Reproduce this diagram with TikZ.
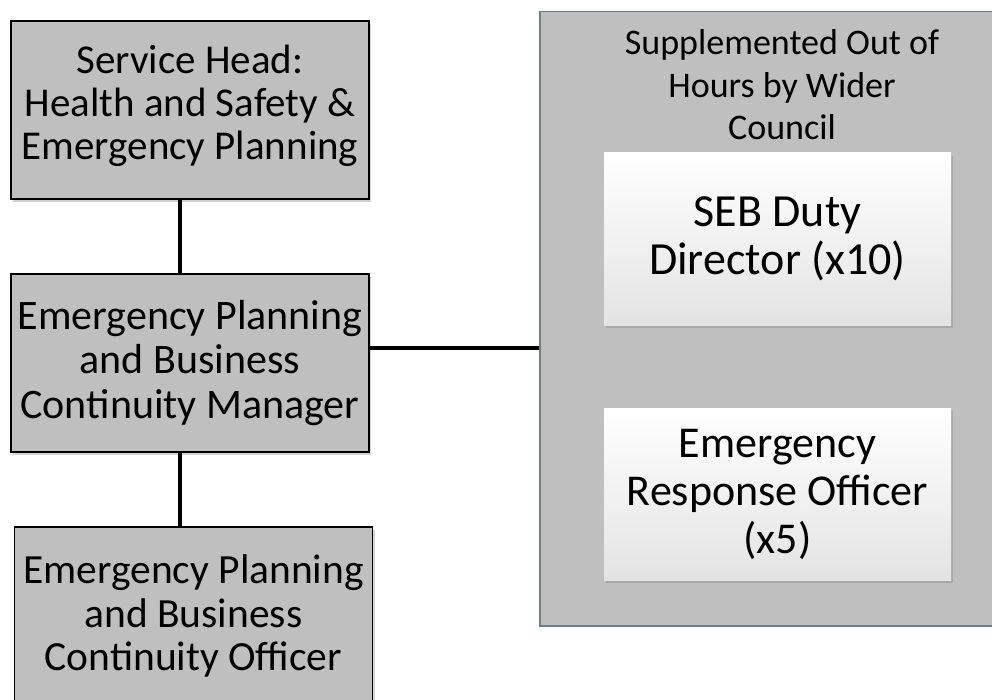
\documentclass[tikz,border=0pt]{standalone}
\usepackage{fontspec}
\setmainfont{Carlito}
\usetikzlibrary{shadows}

\definecolor{boxgrey}{HTML}{BFBFBF}
\definecolor{slate}{HTML}{6E7C91}

\tikzset{
  role/.style={draw=black, line width=1.4pt, fill=boxgrey, align=center,
    minimum width=358pt, minimum height=178pt, inner sep=0pt,
    drop shadow={shadow xshift=2pt, shadow yshift=-3pt, opacity=0.35}},
  duty/.style={fill=white, top color=white, middle color=white, bottom color=black!11,
    align=center, minimum width=347pt, minimum height=172pt, inner sep=0pt,
    drop shadow={shadow xshift=2pt, shadow yshift=-3pt, opacity=0.35}},
  link/.style={line width=3.2pt}
}

\begin{document}
\begin{tikzpicture}[x=1pt,y=-1pt]
   \useasboundingbox (0,0) rectangle (992,700);
   \clip (0,0) rectangle (992,700);
   \fill[white] (0,0) rectangle (992,700);

   % out of hours cover
   \path (539,11) node[draw=slate, line width=1.5pt, fill=boxgrey, anchor=north west,
     minimum width=470pt, minimum height=614pt, inner sep=0pt] (cover) {};
   \path (782,85) node[align=center, font=\fontsize{36}{42.5}\selectfont] (coverTitle)
     {Supplemented Out of\\Hours by Wider\\Council};
   \path (777.5,239) node[duty, font=\fontsize{46}{48}\selectfont] (seb)
     {SEB Duty\\Director (x10)};
   \path (777.5,494) node[duty, font=\fontsize{44}{48}\selectfont] (ero)
     {Emergency\\Response Officer\\(x5)};

   % team
   \path (190,110) node[role] (head) {};
   \path ([yshift=4pt]head.center) node[align=center, font=\fontsize{41}{43}\selectfont] (headText)
     {Service Head:\\Health and Safety \&\\Emergency Planning};
   \path (190,363) node[role, font=\fontsize{42}{44.5}\selectfont] (manager)
     {Emergency Planning\\and Business\\Continuity Manager};
   \path (193.5,616) node[role, font=\fontsize{41.5}{43.5}\selectfont] (officer)
     {Emergency Planning\\and Business\\Continuity Officer};

   \coordinate (spine) at (180,0);
   \draw[link] (head.south -| spine) -- (manager.north -| spine);
   \draw[link] (manager.south -| spine) -- (officer.north -| spine);
   \draw[link] ([yshift=15pt]manager.east) -- ([yshift=15pt]manager.east -| cover.west);
\end{tikzpicture}
\end{document}
